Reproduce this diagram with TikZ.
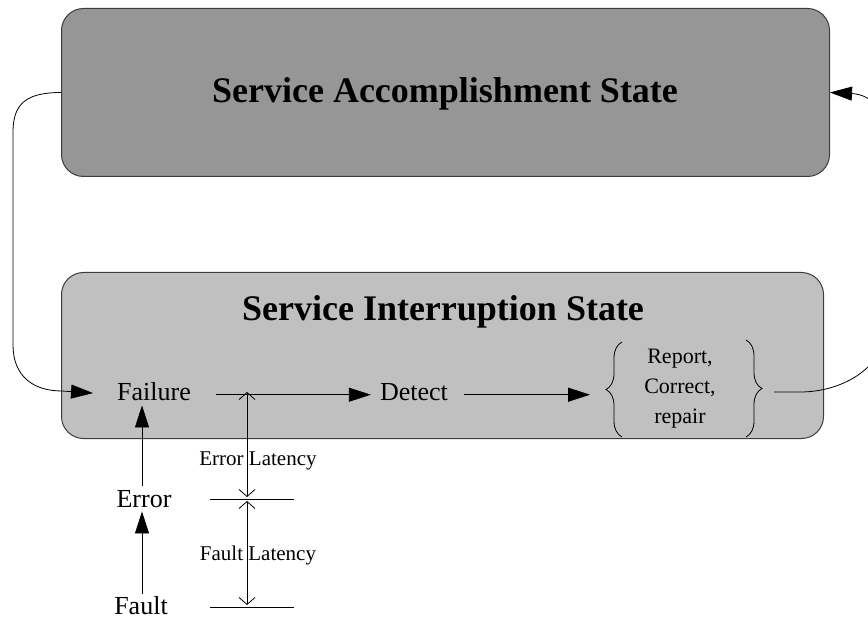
\documentclass[tikz,border=0pt]{standalone}
\usepackage{fontspec}
\setmainfont{Liberation Serif}
\usetikzlibrary{arrows.meta,decorations.pathreplacing}
\definecolor{boxdark}{RGB}{150,150,150}
\definecolor{boxlight}{RGB}{192,192,192}
\definecolor{edge}{RGB}{60,60,60}
\begin{document}
\begin{tikzpicture}[x=1pt,y=-1pt,
  box/.style={draw=edge,line width=1pt,rounded corners=22pt,inner sep=0pt},
  title/.style={font=\fontsize{36}{40}\selectfont\bfseries,inner sep=0pt,anchor=base},
  lbl/.style={font=\fontsize{26}{30}\selectfont,inner sep=0pt,anchor=base},
  small/.style={font=\fontsize{21}{24}\selectfont,inner sep=0pt,anchor=base},
  arr/.style={-{Triangle[length=22pt,width=14pt]},line width=0.8pt},
  line/.style={line width=0.8pt},
  lat/.style={{Straight Barb[length=7pt,width=16pt]}-{Straight Barb[length=7pt,width=16pt]},line width=0.8pt},
  br/.style={line width=0.8pt,decorate,decoration={brace,amplitude=16pt}}]
\useasboundingbox (0,0) rectangle (868,620);
% boxes
\node[box,fill=boxdark,minimum width=768pt,minimum height=168pt,anchor=north west] (sa) at (61,8) {};
\node[box,fill=boxlight,minimum width=762pt,minimum height=166pt,anchor=north west] (si) at (61,272) {};
\node[title] (satitle) at (445,103) {Service Accomplishment State};
\node[title] (sititle) at (443,321) {Service Interruption State};
% labels
\node[lbl] (failure) at (154,400) {Failure};
\node[lbl] (detect) at (414,400) {Detect};
\node[lbl] (error) at (144,507) {Error};
\node[lbl] (fault) at (141,614) {Fault};
\node[font=\fontsize{22}{30}\selectfont,inner sep=0pt,align=center] (rcr) at (680,389) {Report,\\Correct,\\repair};
\node[small] (errlat) at (258,465) {Error Latency};
\node[small] (faultlat) at (258,560) {Fault Latency};
% horizontal flow
\draw[arr] ([shift={(25pt,3pt)}]failure.mid east) -- ([yshift=3pt]detect.mid west) [shorten >=9pt];
\draw[arr,shorten >=54pt] ([shift={(16pt,3pt)}]detect.mid east) -- ([yshift=3pt]rcr.west |- detect.mid west);
% braces
\draw[br] ([shift={(-58pt,-48pt)}]rcr.center) -- ([shift={(-58pt,47pt)}]rcr.center);
\draw[br] ([shift={(66pt,49pt)}]rcr.center) -- ([shift={(66pt,-48pt)}]rcr.center);
% vertical arrows
\draw[arr,shorten >=5pt] ([shift={(-2pt,4pt)}]error.north) -- ([xshift=-2pt]error.north |- failure.south);
\draw[arr,shorten >=4pt] ([shift={(1pt,2pt)}]fault.north) -- ([xshift=1pt]fault.north |- error.south);
% latency marks
\coordinate (m0) at (247,392);
\coordinate (m1l) at (210,499);
\coordinate (m1r) at (294,499);
\coordinate (m2l) at (210,607);
\coordinate (m2r) at (294,607);
\draw[line] (m1l) -- (m1r);
\draw[line] (m2l) -- (m2r);
\draw[lat,shorten >=2pt] (m0) -- (m0 |- m1l);
\draw[lat,shorten <=2pt,shorten >=2pt] (m0 |- m1l) -- (m0 |- m2l);
% loops
\draw[arr,shorten >=24pt] (sa.west) .. controls +(-35,0) and +(0,-28) .. (13,132) -- (13,345)
  .. controls +(0,30) and +(-30,0) .. (62,391) -- ([yshift=3pt]failure.mid west);
\draw[arr] ([shift={(94pt,-3pt)}]rcr.center) -- ++(26,0)
  .. controls +(45,0) and +(0,35) .. (885,330) -- (885,145)
  .. controls +(0,-38) and +(40,2) .. (sa.east);
\end{tikzpicture}
\end{document}
